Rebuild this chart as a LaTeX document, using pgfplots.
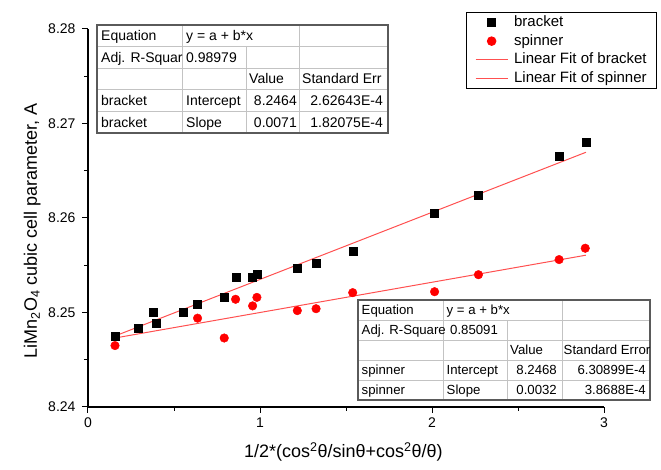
\documentclass[border=0pt]{standalone}
\usepackage{pgfplots}
\pgfplotsset{compat=1.18}
\usepackage{fontspec}
\setmainfont{Liberation Sans}
\definecolor{fitred}{RGB}{255,80,80}
\definecolor{gridgray}{RGB}{195,195,195}
\definecolor{bordergray}{RGB}{90,90,90}

\begin{document}
\begin{tikzpicture}[x=1pt,y=1pt]
\path[use as bounding box] (-88,-63) rectangle (573,407);
\begin{axis}[
  at={(0,0)}, anchor=south west,
  scale only axis, width=516pt, height=378pt,
  xmin=0, xmax=3, ymin=8.24, ymax=8.28,
  enlargelimits=false,
  axis lines=left, axis line style={-, line width=1.2pt},
  tick align=outside, major tick length=6pt, minor tick length=4pt,
  every tick/.style={black, line width=1pt},
  xtick={0,1,2,3}, ytick={8.24,8.25,8.26,8.27,8.28},
  minor x tick num=1, minor y tick num=1,
  scaled y ticks=false,
  /pgf/number format/assume math mode=true,
  tick label style={font=\fontsize{14}{16}\selectfont},
  y tick label style={xshift=-3pt, /pgf/number format/.cd, fixed, fixed zerofill, precision=2},
  x tick label style={yshift=-1pt},
  xlabel={1/2*(cos\textsuperscript{2}θ/sinθ+cos\textsuperscript{2}θ/θ)},
  ylabel={LiMn\textsubscript{2}O\textsubscript{4} cubic cell parameter, A},
  label style={font=\fontsize{18}{20}\selectfont},
  xlabel style={at={(axis description cs:0.495,-0.119)}, anchor=center},
  ylabel style={at={(axis description cs:-0.108,0.466)}, anchor=center},
  legend style={at={(1.103,1.045)}, anchor=north east, draw=black, line width=0.9pt,
    font=\fontsize{15}{15}\selectfont, row sep=2.7pt, inner xsep=9pt, inner ysep=2pt,
    nodes={inner sep=1pt, text height=11pt, text depth=3pt}, cells={anchor=west},
    /tikz/every odd column/.append style={column sep=5pt}},
  legend image code/.code={\draw[mark repeat=2,mark phase=2,#1] plot coordinates {(0pt,0pt) (16pt,0pt) (32pt,0pt)};},
]
\addplot[only marks, mark=square*, mark size=4pt, black] coordinates {
(0.157,8.2475) (0.293,8.2483) (0.380,8.2500) (0.394,8.2489) (0.553,8.2500)
(0.637,8.2509) (0.792,8.2516) (0.860,8.2537) (0.957,8.2537) (0.982,8.2540)
(1.219,8.2547) (1.326,8.2552) (1.539,8.2565) (2.015,8.2605) (2.270,8.2624)
(2.741,8.2665) (2.895,8.2680)};
\addlegendentry{bracket}
\addplot[only marks, mark=*, mark size=4.3pt, red] coordinates {
(0.157,8.2465) (0.637,8.2494) (0.792,8.2473) (0.858,8.2514) (0.957,8.2507)
(0.982,8.2516) (1.217,8.2502) (1.326,8.2504) (1.539,8.2521) (2.015,8.2522)
(2.270,8.2540) (2.739,8.2556) (2.891,8.2568)};
\addlegendentry{spinner}
\addplot[fitred, line width=1pt, no marks] coordinates {(0.157,8.247515) (2.895,8.266955)};
\addlegendentry{Linear Fit of bracket}
\addplot[fitred, line width=1pt, no marks] coordinates {(0.157,8.247302) (2.895,8.256064)};
\addlegendentry{Linear Fit of spinner}
\end{axis}

% top table (bracket)
\begin{scope}[font=\fontsize{14}{16}\selectfont, every node/.style={inner sep=0pt}]
\fill[white] (9,274) rectangle (300,382);
\foreach \y in {360.4,338.8,317.2,295.6} \draw[gridgray, line width=0.8pt] (9,\y) -- (300,\y);
\draw[gridgray, line width=0.8pt] (94,274) -- (94,382) (158,274) -- (158,360.4) (211,274) -- (211,382);
\draw[bordergray, line width=1.5pt] (9,274) rectangle (300,382);
\node[anchor=base west] at (13,366.2) {Equation};
\node[anchor=base west] at (98,366.2) {y = a + b*x};
\node[anchor=base west] at (13,344.6) {Adj. R-Squar};
\node[anchor=base west] at (98,344.6) {0.98979};
\node[anchor=base west] at (161,323) {Value};
\node[anchor=base west] at (214,323) {Standard Err};
\node[anchor=base west] at (13,301.4) {bracket};
\node[anchor=base west] at (98,301.4) {Intercept};
\node[anchor=base east] at (209,301.4) {8.2464};
\node[anchor=base east] at (295,301.4) {2.62643E-4};
\node[anchor=base west] at (13,279.8) {bracket};
\node[anchor=base west] at (98,279.8) {Slope};
\node[anchor=base east] at (209,279.8) {0.0071};
\node[anchor=base east] at (295,279.8) {1.82075E-4};
\end{scope}

% bottom table (spinner)
\begin{scope}[font=\fontsize{13.2}{15}\selectfont, every node/.style={inner sep=0pt}]
\fill[white] (270,7) rectangle (562,107);
\foreach \y in {87,67,47,27} \draw[gridgray, line width=0.8pt] (270,\y) -- (562,\y);
\draw[gridgray, line width=0.8pt] (355,7) -- (355,107) (419,7) -- (419,87) (474,7) -- (474,107);
\draw[bordergray, line width=1.5pt] (270,7) rectangle (562,107);
\node[anchor=base west] at (273.5,92.3) {Equation};
\node[anchor=base west] at (358.5,92.3) {y = a + b*x};
\node[anchor=base west] at (273.5,72.3) {Adj. R-Square};
\node[anchor=base west] at (362,72.3) {0.85091};
\node[anchor=base west] at (422,52.3) {Value};
\node[anchor=base west] at (475.5,52.3) {Standard Error};
\node[anchor=base west] at (273.5,32.3) {spinner};
\node[anchor=base west] at (358.5,32.3) {Intercept};
\node[anchor=base east] at (469,32.3) {8.2468};
\node[anchor=base east] at (558,32.3) {6.30899E-4};
\node[anchor=base west] at (273.5,12.3) {spinner};
\node[anchor=base west] at (358.5,12.3) {Slope};
\node[anchor=base east] at (469,12.3) {0.0032};
\node[anchor=base east] at (558,12.3) {3.8688E-4};
\end{scope}
\end{tikzpicture}
\end{document}
